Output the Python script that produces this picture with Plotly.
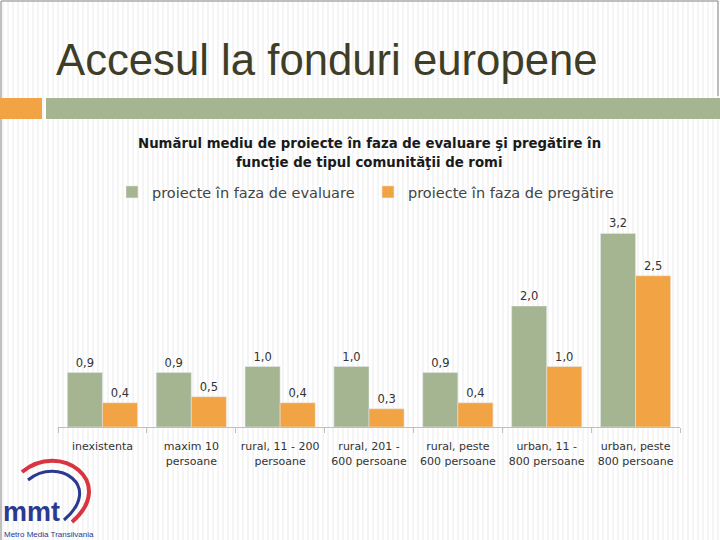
import plotly.graph_objects as go

categories = ["inexistenta", "maxim 10<br>persoane", "rural, 11 - 200<br>persoane",
              "rural, 201 -<br>600 persoane", "rural, peste<br>600 persoane",
              "urban, 11 -<br>800 persoane", "urban, peste<br>800 persoane"]
evaluare = [0.9, 0.9, 1.0, 1.0, 0.9, 2.0, 3.2]
pregatire = [0.4, 0.5, 0.4, 0.3, 0.4, 1.0, 2.5]
series_names = ["proiecte în faza de evaluare", "proiecte în faza de pregătire"]

GREEN = "#A5B592"
ORANGE = "#F2A444"
FONT = "DejaVu Sans"

W, H = 720, 540
L, R, T, B = 58, 40, 130, 113
PW, PH = W - L - R, H - T - B
BASE = H - B


def px2x(px):
    return (px - L) / PW


def px2y(py):
    return (BASE - py) / PH


fig = go.Figure()
for vals, name, col in [(evaluare, series_names[0], GREEN), (pregatire, series_names[1], ORANGE)]:
    fig.add_trace(go.Bar(x=categories, y=vals, name=name, marker_color=col,
                         texttemplate="%{y:.1f}", textposition="outside",
                         textfont=dict(size=11.5, color="#333333", family=FONT),
                         cliponaxis=False))

stripe_path = " ".join(f"M {px2x(x):.5f} {px2y(0):.5f} L {px2x(x):.5f} {px2y(H):.5f}"
                       for x in range(3, W, 5))
fig.add_shape(type="path", xref="paper", yref="paper", path=stripe_path,
              line=dict(color="#EBEBEB", width=1), layer="below")

fig.update_layout(
    width=W, height=H,
    margin=dict(l=L, r=R, t=T, b=B, autoexpand=False),
    paper_bgcolor="white", plot_bgcolor="rgba(0,0,0,0)",
    separators=",.",
    barmode="group", bargap=0.21, bargroupgap=0,
    showlegend=True,
    legend=dict(orientation="h", xref="paper", yref="paper",
                x=px2x(112), y=px2y(192), xanchor="left", yanchor="middle",
                font=dict(family=FONT, size=14.5, color="#444444"),
                bgcolor="rgba(0,0,0,0)", itemwidth=30,
                entrywidth=211, entrywidthmode="pixels"),
    xaxis=dict(showline=True, linecolor="#BFBFBF", linewidth=1, ticks="outside",
               tickson="boundaries", ticklen=5, tickcolor="#BFBFBF",
               tickfont=dict(family=FONT, size=11, color="#333333"), showgrid=False,
               automargin=False, ticklabelstandoff=9),
    yaxis=dict(range=[0, PH / 60.5], visible=False, showgrid=False, automargin=False),
    font=dict(family=FONT),
)


def px_rect(x0, y0, x1, y1, color):
    fig.add_shape(type="rect", xref="paper", yref="paper",
                  x0=px2x(x0), x1=px2x(x1), y0=px2y(y1), y1=px2y(y0),
                  fillcolor=color, line_width=0, layer="above")


def px_line(x0, y0, x1, y1, color, width=1):
    fig.add_shape(type="line", xref="paper", yref="paper",
                  x0=px2x(x0), x1=px2x(x1), y0=px2y(y0), y1=px2y(y1),
                  line=dict(color=color, width=width), layer="above")


def px_text(x, y, text, size, color, family=FONT, anchor="center", bold=False):
    fig.add_annotation(xref="paper", yref="paper", x=px2x(x), y=px2y(y),
                       text=f"<b>{text}</b>" if bold else text, showarrow=False,
                       xanchor=anchor, yanchor="middle",
                       font=dict(size=size, color=color, family=family))


# slide frame and header bars
px_line(1, 1, 718, 1, "#AAAAAA", 1.5)
px_line(1, 1, 1, 540, "#AAAAAA", 1.5)
px_line(718, 1, 718, 96, "#AAAAAA", 1.5)
px_rect(0, 98, 42, 119, ORANGE)
px_rect(46, 98, 720, 119, GREEN)

px_text(54, 59, "Accesul la fonduri europene", 43.7, "#3E3E28", family="Liberation Sans", anchor="left")
px_text(369, 143, "Numărul mediu de proiecte în faza de evaluare şi pregătire în", 13.3, "#1A1A1A", bold=True)
px_text(369, 162, "funcţie de tipul comunităţii de romi", 13.3, "#1A1A1A", bold=True)

# logo approximation
fig.add_shape(type="path", xref="paper", yref="paper",
              path=(f"M {px2x(22):.4f} {px2y(472):.4f} "
                    f"C {px2x(60):.4f} {px2y(440):.4f} {px2x(118):.4f} {px2y(482):.4f} "
                    f"{px2x(72):.4f} {px2y(522):.4f}"),
              line=dict(color="#D9343F", width=4), layer="above")
fig.add_shape(type="path", xref="paper", yref="paper",
              path=(f"M {px2x(28):.4f} {px2y(480):.4f} "
                    f"C {px2x(58):.4f} {px2y(456):.4f} {px2x(104):.4f} {px2y(486):.4f} "
                    f"{px2x(64):.4f} {px2y(520):.4f}"),
              line=dict(color="#2B3990", width=3), layer="above")
px_text(1, 512, "mmt", 27, "#2B3990", family="Liberation Sans", anchor="left", bold=True)
px_text(2, 534, "Metro Media Transilvania", 8, "#2B3990", family="Liberation Sans", anchor="left")

fig.write_html("out.html", post_script="document.body.style.margin='0';",
               config={"displayModeBar": False})
